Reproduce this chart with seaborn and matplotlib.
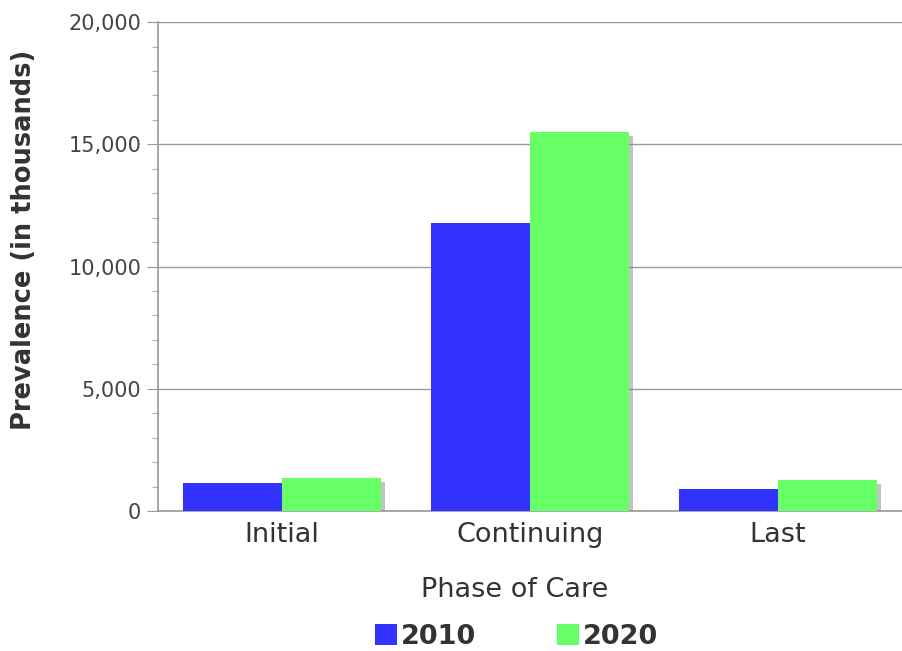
import pandas as pd
import matplotlib.pyplot as plt
import matplotlib.patheffects as pe
from matplotlib.ticker import MultipleLocator, FuncFormatter
from matplotlib.patches import Patch
import seaborn as sns

# データ
phases = ["Initial", "Continuing", "Last"]
years = ["2010", "2020"]
prev_2010 = [1130, 11770, 910]
prev_2020 = [1350, 15500, 1270]
colors = ["#3333ff", "#66ff66"]

df = pd.DataFrame({
    "Phase": phases * 2,
    "Year": [years[0]] * 3 + [years[1]] * 3,
    "Prevalence": prev_2010 + prev_2020,
})

sns.set_style("white")
plt.rcParams["font.family"] = ["DejaVu Sans"]

fig = plt.figure(figsize=(9.02, 6.51), dpi=100)
ax = fig.add_axes([0.175, 0.215, 0.825, 0.751])

sns.barplot(data=df, x="Phase", y="Prevalence", hue="Year", palette=colors,
            width=0.8, saturation=1, ax=ax, legend=False, zorder=3)

# 影っぽい効果
for bar in ax.patches:
    bar.set_linewidth(0)
    bar.set_path_effects([pe.SimplePatchShadow(offset=(3, -3), shadow_rgbFace="#888888", alpha=0.5),
                          pe.Normal()])

ax.set_ylim(0, 20000)
ax.set_xlim(-0.5, 2.5)
ax.yaxis.set_major_locator(MultipleLocator(5000))
ax.yaxis.set_minor_locator(MultipleLocator(1000))
ax.yaxis.set_major_formatter(FuncFormatter(lambda v, p: f"{int(v):,}"))
ax.grid(axis="y", which="major", color="#999999", lw=1, zorder=0)

# x軸の目盛りはカテゴリの境界に
ax.set_xticks([0.5, 1.5], minor=True)
ax.tick_params(axis="x", which="major", length=0, labelsize=19.5, labelcolor="#333333", pad=8)
ax.tick_params(axis="x", which="minor", length=6, color="#999999", direction="out")
ax.tick_params(axis="y", which="major", length=8, color="#999999", labelsize=15,
               labelcolor="#444444", direction="out", left=True, pad=4)
ax.tick_params(axis="y", which="minor", length=4, color="#999999", direction="out", left=True)

for s in ["top", "right"]:
    ax.spines[s].set_visible(False)
for s in ["left", "bottom"]:
    ax.spines[s].set_color("#999999")
    ax.spines[s].set_linewidth(1.2)

ax.set_ylabel("Prevalence (in thousands)", fontsize=18.5, fontweight="bold", color="#333333")
ax.yaxis.set_label_coords(-0.163, 0.554)
ax.set_xlabel("Phase of Care", fontsize=19.5, color="#333333")
ax.xaxis.set_label_coords(0.48, -0.135)

handles = [Patch(facecolor=c, edgecolor="none") for c in colors]
leg = fig.legend(handles, years, loc="center", bbox_to_anchor=(0.573, 0.0215), ncol=2,
                 frameon=False, handlelength=0.8, handleheight=0.8, handletextpad=0.15,
                 columnspacing=3.0, prop={"size": 19.5, "weight": "bold"})
for t in leg.get_texts():
    t.set_color("#333333")

plt.savefig("out.png", dpi=100)
